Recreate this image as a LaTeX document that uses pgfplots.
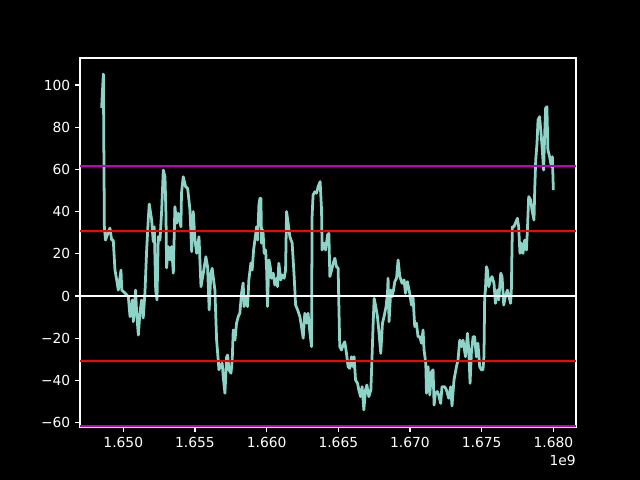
\documentclass[border=0pt]{standalone}
\usepackage{fontspec}
\setmainfont{DejaVu Sans}
\usepackage{pgfplots}
\pgfplotsset{compat=1.18}
\definecolor{mplteal}{HTML}{8DD3C7}
\definecolor{mplmag}{HTML}{BF00BF}

\begin{document}
\begin{tikzpicture}
\path[use as bounding box, fill=black] (-0.80in,-0.53in) rectangle (5.60in,4.27in);
\begin{axis}[
    scale only axis,
    width=4.96in, height=3.69in,
    xmin=1.64698, xmax=1.68158,
    ymin=-62.1, ymax=112.8,
    axis line style={white, line width=0.8pt},
    tick style={white, line width=0.8pt},
    major tick length=3.5pt,
    tick align=outside,
    xtick pos=bottom, ytick pos=left,
    xtick={1.650,1.655,1.660,1.665,1.670,1.675,1.680},
    xticklabels={1.650,1.655,1.660,1.665,1.670,1.675,1.680},
    ytick={-60,-40,-20,0,20,40,60,80,100},
    yticklabels={−60,−40,−20,0,20,40,60,80,100},
    ticklabel style={white, font=\fontsize{10}{12}\selectfont},
    scaled x ticks=false,
    clip=false,
]
\addplot[mplteal, line width=2pt, line join=round, no markers] coordinates {
(1.64849,89.1) (1.64854,96.2) (1.64861,105.2) (1.64868,32.8) (1.64876,26.5)
(1.64884,28.1) (1.64907,32.2) (1.64919,26.5) (1.64930,26.5) (1.64942,12.3)
(1.64954,7.6) (1.64965,2.8) (1.64984,12.3) (1.64989,2.8) (1.65012,1.4)
(1.65035,-0.3) (1.65047,-9.8) (1.65063,-1.9) (1.65070,-12.2) (1.65086,2.8)
(1.65093,-8) (1.65105,-18.5) (1.65116,-8) (1.65128,-1.9) (1.65139,-10.4)
(1.65151,1.4) (1.65163,21.8) (1.65174,36) (1.65181,43.6) (1.65198,36)
(1.65209,25.7) (1.65216,32.8) (1.65226,2.8) (1.65235,-1.9) (1.65244,28.1)
(1.65256,26.5) (1.65268,40.8) (1.65279,59.7) (1.65291,56.5) (1.65298,37.6)
(1.65302,13.3) (1.65314,23.4) (1.65326,17.1) (1.65337,23.4) (1.65349,10.8)
(1.65360,42.3) (1.65372,34.5) (1.65383,39.2) (1.65402,32.8) (1.65406,48.7)
(1.65418,56.5) (1.65435,51.8) (1.65449,51) (1.65465,40.8) (1.65477,21)
(1.65488,40) (1.65500,26.5) (1.65512,20.2) (1.65528,28.1) (1.65542,4.4)
(1.65558,10.8) (1.65576,18.6) (1.65588,13.9) (1.65599,-6.6) (1.65611,10.8)
(1.65620,13.1) (1.65639,2.8) (1.65651,-20.9) (1.65662,-30.3) (1.65667,-35)
(1.65681,-32.7) (1.65690,-31.9) (1.65697,-38.2) (1.65709,-46.1) (1.65721,-28.8)
(1.65728,-28) (1.65737,-35) (1.65751,-36.6) (1.65760,-30.3) (1.65767,-16.1)
(1.65779,-20.9) (1.65790,-12.9) (1.65802,-9.8) (1.65813,-8.1) (1.65825,1.4)
(1.65836,6.2) (1.65843,-5) (1.65853,-0.3) (1.65867,-5) (1.65876,7.6)
(1.65890,15.6) (1.65899,12.3) (1.65909,21.8) (1.65918,26.5) (1.65930,32.8)
(1.65937,26.5) (1.65946,43.1) (1.65953,46.3) (1.65960,46.3) (1.65965,25)
(1.65974,31.3) (1.65983,20.2) (1.65993,21.8) (1.66000,12.3) (1.66006,-5)
(1.66016,17.1) (1.66025,13.9) (1.66034,8.4) (1.66046,10.8) (1.66057,5.2)
(1.66069,8.4) (1.66076,4.4) (1.66085,15.5) (1.66099,7.6) (1.66108,10)
(1.66122,8.4) (1.66132,12.3) (1.66139,40) (1.66150,34.5) (1.66162,28.1)
(1.66178,25) (1.66192,9.2) (1.66202,-4.3) (1.66216,-6.6) (1.66232,-9.8)
(1.66243,-14.5) (1.66255,-20) (1.66266,-8.2) (1.66278,-12.9) (1.66289,-8.2)
(1.66301,-16.9) (1.66313,-24) (1.66317,37.6) (1.66324,47.9) (1.66336,49.4)
(1.66348,48.7) (1.66359,51.8) (1.66373,54.2) (1.66383,40.8) (1.66387,21.8)
(1.66401,25) (1.66411,21.8) (1.66425,28.9) (1.66434,29.7) (1.66441,9.2)
(1.66453,12.3) (1.66464,15.5) (1.66476,17.9) (1.66487,13.9) (1.66499,13.1)
(1.66503,-1.9) (1.66510,-24) (1.66522,-25.6) (1.66533,-23.2) (1.66545,-21.7)
(1.66557,-27.2) (1.66568,-33.5) (1.66580,-34.3) (1.66592,-28.8) (1.66603,-33.5)
(1.66610,-28.8) (1.66620,-39.8) (1.66634,-41.4) (1.66643,-44.5) (1.66655,-47.7)
(1.66666,-43) (1.66678,-54) (1.66690,-44.5) (1.66699,-42.2) (1.66713,-47.7)
(1.66727,-44.5) (1.66736,-27.2) (1.66743,-12.9) (1.66750,-1.1) (1.66761,-5)
(1.66773,-9.8) (1.66782,-16.1) (1.66796,-27.2) (1.66808,-12.9) (1.66819,-9.8)
(1.66833,-5) (1.66843,1.3) (1.66847,8.4) (1.66854,-12.2) (1.66866,2.8)
(1.66875,-0.3) (1.66885,2.8) (1.66894,6.8) (1.66906,8.4) (1.66917,17.1)
(1.66929,9.2) (1.66945,6) (1.66959,7.6) (1.66968,1.3) (1.66982,6.8)
(1.66998,1.3) (1.67010,-4.3) (1.67021,-0.3) (1.67033,-14.5) (1.67045,-12.9)
(1.67056,-19.3) (1.67068,-19.3) (1.67080,-22.4) (1.67091,-16.1) (1.67098,-25.6)
(1.67110,-31.9) (1.67115,-46.1) (1.67126,-33.5) (1.67138,-46.9) (1.67150,-35.9)
(1.67161,-35) (1.67168,-51.7) (1.67177,-46.1) (1.67191,-45.3) (1.67200,-46.9)
(1.67214,-50.9) (1.67223,-43) (1.67242,-43) (1.67254,-44.5) (1.67270,-48.5)
(1.67284,-43) (1.67293,-52.1) (1.67307,-39.8) (1.67324,-33.5) (1.67335,-30.3)
(1.67347,-20.9) (1.67359,-24) (1.67370,-20.9) (1.67387,-28.8) (1.67401,-17.7)
(1.67410,-25.6) (1.67419,-41.4) (1.67428,-27.2) (1.67440,-19.3) (1.67451,-19.3)
(1.67463,-28.8) (1.67474,-22.4) (1.67486,-33.5) (1.67498,-35) (1.67509,-35)
(1.67516,-28.8) (1.67521,-0.3) (1.67526,2.8) (1.67533,13.9) (1.67540,12.3)
(1.67549,4.4) (1.67561,7.6) (1.67572,9.2) (1.67586,6) (1.67596,-3.5)
(1.67610,2.8) (1.67619,-1.9) (1.67633,10.8) (1.67642,9.2) (1.67654,-4.3)
(1.67665,-0.3) (1.67679,2.8) (1.67688,0.5) (1.67702,-3.5) (1.67707,2.8)
(1.67714,32.8) (1.67725,32.8) (1.67735,34.5) (1.67749,36.8) (1.67758,32.8)
(1.67767,20.2) (1.67777,25) (1.67788,20.2) (1.67800,26.5) (1.67812,21.8)
(1.67819,31.3) (1.67828,47.1) (1.67842,45.5) (1.67851,40.8) (1.67865,36)
(1.67870,50.2) (1.67877,64.5) (1.67886,72.4) (1.67893,83.4) (1.67904,85)
(1.67916,75.5) (1.67923,69.2) (1.67932,59.7) (1.67939,75.5) (1.67946,89)
(1.67955,89.7) (1.67962,69.2) (1.67974,66) (1.67986,61.3) (1.67993,66)
(1.68000,50.2)
};
\addplot[white, line width=1.5pt, no markers] coordinates {(1.64698,0) (1.68158,0)};
\addplot[red, line width=1.5pt, no markers] coordinates {(1.64698,30.8) (1.68158,30.8)};
\addplot[red, line width=1.5pt, no markers] coordinates {(1.64698,-30.8) (1.68158,-30.8)};
\addplot[mplmag, line width=1.5pt, no markers] coordinates {(1.64698,61.6) (1.68158,61.6)};
\addplot[mplmag, line width=1.5pt, no markers] coordinates {(1.64698,-61.6) (1.68158,-61.6)};
\node[white, anchor=north east, inner sep=0pt, font=\fontsize{10}{12}\selectfont]
  at (rel axis cs:1,0) [yshift=-0.28in] {1e9};
\end{axis}
\end{tikzpicture}
\end{document}
